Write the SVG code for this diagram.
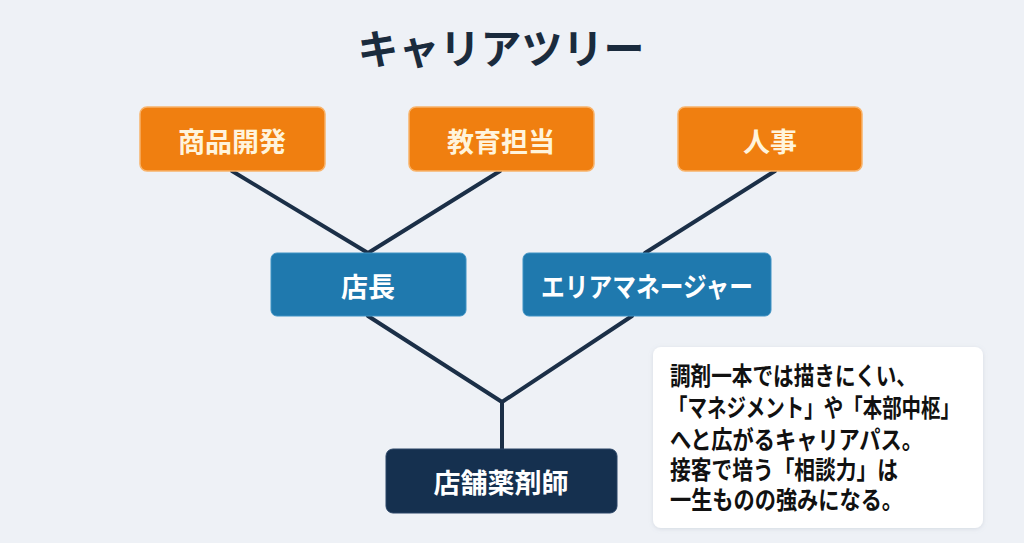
<svg xmlns="http://www.w3.org/2000/svg" width="1024" height="543" viewBox="0 0 1024 543">
<defs>
<style>
.bg{fill:#eef1f6}
.org{fill:#f07f10;stroke:#f8b36a;stroke-width:1.5}
.blu{fill:#1f79ae;stroke:#3f93c4;stroke-width:1}
.nav{fill:#15304f;stroke:#2a4566;stroke-width:1}
.lbl{font-family:"Noto Sans CJK JP","Noto Sans",sans-serif;font-weight:700;font-size:27px;text-anchor:middle;dominant-baseline:central}
.lo{fill:#fff4dc}
.lw{fill:#ffffff}
.title{font-family:"Noto Sans CJK JP","Noto Sans",sans-serif;font-weight:700;font-size:41px;fill:#1a2b3d;text-anchor:middle;dominant-baseline:central}
.note{font-family:"Noto Sans CJK JP","Noto Sans",sans-serif;font-weight:700;font-size:25px;fill:#111111}
.con{stroke:#1b2f47;stroke-width:4;fill:none;stroke-linecap:round;stroke-linejoin:round}
</style>
<filter id="sh" x="-10%" y="-10%" width="120%" height="130%">
<feDropShadow dx="0" dy="1" stdDeviation="2" flood-color="#8a97a8" flood-opacity="0.25"/>
</filter>
</defs>
<rect class="bg" x="0" y="0" width="1024" height="543"/>
<text class="title" x="501" y="46">キャリアツリー</text>
<g id="connectors">
<polyline class="con" points="232,171 368,253 500,171"/>
<line class="con" x1="775" y1="171" x2="645" y2="253"/>
<polyline class="con" points="368,316 502,402 632,316"/>
<line class="con" x1="502" y1="402" x2="502" y2="449"/>
</g>
<g id="node-shohin">
<rect class="org" x="140" y="107" width="185" height="64" rx="7"/>
<text class="lbl lo" x="232" y="140">商品開発</text>
</g>
<g id="node-kyoiku">
<rect class="org" x="409" y="107" width="185" height="64" rx="7"/>
<text class="lbl lo" x="501" y="140">教育担当</text>
</g>
<g id="node-jinji">
<rect class="org" x="678" y="107" width="184" height="64" rx="7"/>
<text class="lbl lo" x="770" y="140">人事</text>
</g>
<g id="node-tencho">
<rect class="blu" x="271" y="253" width="195" height="63" rx="6"/>
<text class="lbl lw" x="368" y="285">店長</text>
</g>
<g id="node-area">
<rect class="blu" x="523" y="253" width="248" height="63" rx="6"/>
<text class="lbl lw" x="647" y="285" textLength="212" lengthAdjust="spacingAndGlyphs">エリアマネージャー</text>
</g>
<g id="node-yakuzaishi">
<rect class="nav" x="386" y="449" width="231" height="64" rx="7"/>
<text class="lbl lw" x="501" y="481">店舗薬剤師</text>
</g>
<g id="note">
<rect x="653" y="347" width="330" height="181" rx="8" fill="#ffffff" filter="url(#sh)"/>
<text class="note" x="670" y="385" textLength="247" lengthAdjust="spacingAndGlyphs">調剤一本では描きにくい、</text>
<text class="note" x="668" y="417" textLength="292" lengthAdjust="spacingAndGlyphs">「マネジメント」や「本部中枢」</text>
<text class="note" x="670" y="449" textLength="253" lengthAdjust="spacingAndGlyphs">へと広がるキャリアパス。</text>
<text class="note" x="670" y="479" textLength="228" lengthAdjust="spacingAndGlyphs">接客で培う「相談力」は</text>
<text class="note" x="670" y="509" textLength="233" lengthAdjust="spacingAndGlyphs">一生ものの強みになる。</text>
</g>
</svg>
